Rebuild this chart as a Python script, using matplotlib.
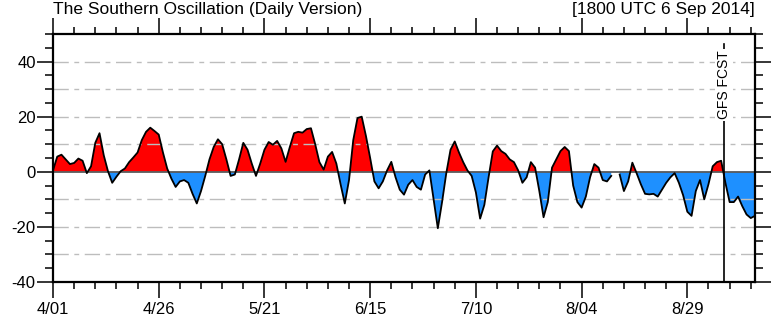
import numpy as np
import matplotlib
matplotlib.use('Agg')
import matplotlib.pyplot as plt
from matplotlib.ticker import MultipleLocator, FixedLocator

plt.rcParams['font.family'] = ['Liberation Sans', 'DejaVu Sans']
plt.rcParams['axes.unicode_minus'] = False

# Daily SOI values, day 0 = 1 Apr 2014 (NaN = missing)
soi = [
    0.5, 5.5, 6.2, 4.5, 2.8, 3.2, 4.8, 4.0, -0.5, 2.0,
    10.5, 14.0, 6.0, 0.2, -4.0, -1.8, 0.2, 1.2, 3.5, 5.2,
    7.0, 11.5, 14.5, 16.0, 14.8, 13.5, 7.0, 1.2, -2.5, -5.5,
    -3.5, -3.0, -4.0, -8.0, -11.5, -7.0, -1.5, 4.5, 9.0, 11.8,
    10.0, 4.5, -1.5, -1.0, 4.5, 10.5, 8.0, 3.0, -1.5, 3.0,
    8.0, 10.8, 9.8, 11.2, 8.5, 3.6, 9.0, 14.0, 14.5, 14.2,
    15.5, 15.8, 10.0, 3.5, 0.8, 5.5, 7.2, 3.0, -4.5, -11.5,
    -3.0, 11.5, 19.5, 20.0, 13.0, 5.0, -3.5, -6.0, -3.5, 0.5,
    3.6, -2.0, -6.5, -8.3, -4.7, -3.0, -5.5, -6.5, -1.0, 0.5,
    -10.0, -20.5, -11.0, -0.5, 8.0, 11.0, 7.0, 3.5, 0.5, -1.5,
    -7.5, -17.0, -12.0, -2.0, 7.4, 9.5, 7.5, 6.5, 4.5, 3.5,
    0.5, -4.0, -2.0, 3.5, 1.5, -7.0, -16.5, -11.0, 1.5, 4.5,
    7.5, 9.0, 7.5, -5.0, -11.0, -13.0, -9.0, -2.0, 2.8, 1.5,
    -3.0, -3.5, -1.5, np.nan, -1.0, -7.0, -3.5, 3.3, -0.5, -4.5,
    -8.0, -8.2, -8.0, -9.0, -6.5, -4.0, -2.0, -0.5, -4.0, -8.5,
    -14.5, -16.0, -7.0, -3.0, -10.0, -4.5, 2.0, 3.5, 4.0, -4.0,
    -11.0, -11.0, -9.0, -12.5, -15.5, -16.8, -16.0,
]
tick_days = [0, 25, 50, 75, 100, 125, 150]
tick_labels = ['4/01', '4/26', '5/21', '6/15', '7/10', '8/04', '8/29']
fcst_day = 158.75
fcst_label = 'GFS FCST'
title_left = 'The Southern Oscillation (Daily Version)'
title_right = '[1800 UTC 6 Sep 2014]'

W, H = 772, 325
fig = plt.figure(figsize=(W / 100, H / 100), dpi=100)
ax = fig.add_axes([53 / W, (H - 282) / H, (755 - 53) / W, (282 - 34) / H])

y = np.array(soi, dtype=float)
d = np.arange(len(y))
ax.fill_between(d, y, 0, where=y >= 0, interpolate=True, color='#FF0000', lw=0, zorder=1)
ax.fill_between(d, y, 0, where=y <= 0, interpolate=True, color='#1E90FF', lw=0, zorder=1)
for g in [-30, -20, -10, 10, 20, 30, 40]:
    ax.axhline(g, color='#BDBDBD', lw=1.0, ls=(0, (11, 4, 3.5, 4)), zorder=2)
ax.axhline(0, color='#5A5A5A', lw=1.3, zorder=2.5)
ax.plot(d, y, color='black', lw=1.3, zorder=3)

ax.plot([fcst_day, fcst_day], [-40, 46.5], color='black', lw=1.2, zorder=4)
ax.text(fcst_day, 31.5, fcst_label, rotation=90, ha='center', va='center',
        fontsize=10, zorder=5,
        bbox=dict(facecolor='white', edgecolor='none', pad=1.5))

ax.set_xlim(0, 166)
ax.set_ylim(-40, 50)
ax.xaxis.set_major_locator(FixedLocator(tick_days))
ax.set_xticklabels(tick_labels)
ax.xaxis.set_minor_locator(MultipleLocator(5))
ax.yaxis.set_major_locator(FixedLocator([-40, -20, 0, 20, 40]))
ax.yaxis.set_minor_locator(MultipleLocator(5))

for s in ax.spines.values():
    s.set_linewidth(1.6)
ax.tick_params(which='both', direction='out', top=True, right=True, width=1.1,
               labelsize=12)
ax.tick_params(axis='x', which='major', length=11.5, pad=3)
ax.tick_params(axis='x', which='minor', length=5)
ax.tick_params(axis='y', which='major', length=11.5, pad=1)
ax.tick_params(axis='y', which='minor', length=6)

fig.text(53 / W, 1 - 14 / H, title_left, ha='left', va='baseline', fontsize=12.5)
fig.text(755 / W, 1 - 14 / H, title_right, ha='right', va='baseline', fontsize=12.5)

fig.savefig('out.png', dpi=100)
